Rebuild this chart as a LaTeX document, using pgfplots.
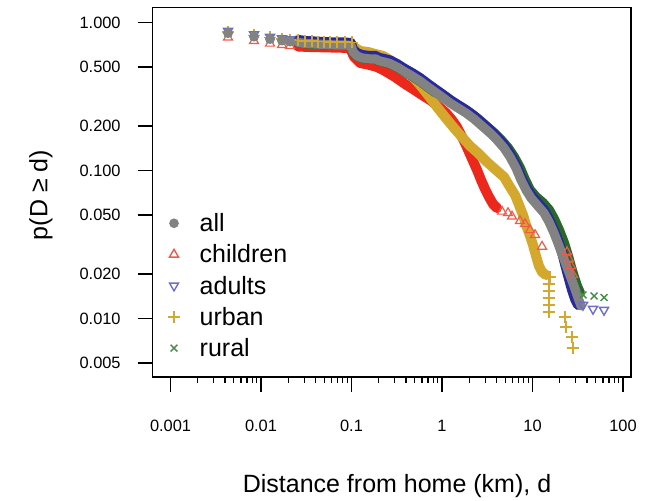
\documentclass[border=0pt]{standalone}
\usepackage{pgfplots}
\pgfplotsset{compat=1.18}
\usepackage{fontspec}
\setmainfont{Liberation Sans}
\definecolor{cgrey}{RGB}{130,130,130}
\definecolor{cred}{RGB}{236,40,28}
\definecolor{credl}{RGB}{242,90,70}
\definecolor{cblue}{RGB}{40,40,160}
\definecolor{cbluel}{RGB}{110,110,200}
\definecolor{cgold}{RGB}{212,168,45}
\definecolor{cgreen}{RGB}{40,105,40}
\definecolor{cgreenl}{RGB}{70,140,70}
\begin{document}
\begin{tikzpicture}
\useasboundingbox (-76.25pt,-62pt) rectangle (247.25pt,188.5pt);
\begin{axis}[
  scale only axis, width=239.25pt, height=184.75pt,
  xmode=log, ymode=log,
  xmin=6.32e-4, xmax=122.5, ymin=0.004024, ymax=1.263,
  axis line style={line width=0.6pt},
  xtick={0.001,0.01,0.1,1,10,100},
  xticklabels={0.001,0.01,0.1,1,10,100},
  ytick={0.005,0.01,0.02,0.05,0.1,0.2,0.5,1},
  yticklabels={0.005,0.010,0.020,0.050,0.100,0.200,0.500,1.000},
  minor xtick={}, minor ytick={},
  tick align=outside, xtick pos=left, ytick pos=left,
  major tick length=7.5pt,
  tick style={line width=0.6pt, black},
  ticklabel style={font=\fontsize{8.2}{10}\selectfont},
  xticklabel style={anchor=center, yshift=-17pt},
  yticklabel style={anchor=east, inner sep=0pt, xshift=-8.25pt},
  xlabel={Distance from home (km), d},
  ylabel={p(D ≥ d)},
  every axis x label/.style={at={(axis description cs:0.511,0)}, anchor=base, yshift=-57.5pt, font=\fontsize{12.5}{15}\selectfont},
  every axis y label/.style={at={(axis description cs:-0.233,0.4926)}, rotate=90, anchor=center, font=\fontsize{12.5}{15}\selectfont},
  legend style={draw=none, fill=none, inner sep=0pt, outer sep=0pt,
    at={(axis description cs:0.0226,0.4582)}, anchor=north west,
    row sep=0pt, column sep=0pt, font=\fontsize{12.5}{15}\selectfont,
    nodes={inner sep=0pt, text height=12pt, text depth=3.6pt}},
  legend cell align=left,
  legend image code/.code={\draw[#1] plot coordinates {(0pt,0pt)}; \path (-5pt,0pt) (12.5pt,0pt);},
]
% ---------- children (red) ----------
\addplot[cred, line width=5pt, line join=round, line cap=round, forget plot] table {
0.02564 0.688
0.03479 0.683
0.05787 0.678
0.0962 0.673
0.1066 0.585
0.1242 0.533
0.1601 0.516
0.1913 0.500
0.2346 0.470
0.3025 0.428
0.3902 0.384
0.4782 0.355
0.601 0.3237
0.737 0.2995
0.903 0.2728
1.107 0.2446
1.290 0.2194
1.465 0.1967
1.622 0.1738
1.795 0.1534
1.988 0.1334
2.200 0.1159
2.437 0.1008
2.697 0.0863
2.986 0.0750
3.306 0.0662
3.660 0.0594
4.053 0.0558
};
\addplot[only marks, mark=triangle, mark size=2.6pt, credl, line width=0.6pt, forget plot] table {
0.00432 0.792
0.00837 0.750
0.01257 0.721
0.01706 0.705
0.02091 0.694
4.603 0.0528
5.361 0.0516
5.935 0.0489
7.275 0.0456
8.264 0.0435
9.385 0.0396
10.66 0.0367
12.74 0.0306
24.06 0.0281
25.31 0.0252
26.63 0.0226
28.03 0.01967
};
% ---------- urban (gold) ----------
\addplot[cgold, line width=5pt, line join=round, line cap=round, forget plot] table {
0.1066 0.683
0.1242 0.642
0.1522 0.632
0.1818 0.613
0.2229 0.594
0.2663 0.558
0.3183 0.524
0.3902 0.4775
0.4662 0.435
0.5713 0.378
0.7002 0.3237
0.881 0.2685
1.079 0.2299
1.357 0.1937
1.663 0.1684
2.039 0.1464
2.499 0.1313
3.143 0.1141
3.951 0.1008
4.843 0.0904
5.641 0.0773
6.409 0.0683
7.093 0.0585
7.852 0.0500
8.478 0.0428
9.385 0.0361
10.13 0.0314
10.93 0.02644
11.80 0.0226
12.74 0.0206
14.10 0.01967
};
\addplot[only marks, mark=+, mark size=3pt, cgold, line width=0.7pt, forget plot] table {
0.00432 0.863
0.00837 0.817
0.01257 0.792
0.01706 0.774
0.02091 0.762
0.02564 0.756
0.03063 0.750
0.03661 0.750
0.04265 0.744
0.04967 0.744
0.05787 0.738
0.06916 0.738
0.08477 0.738
0.1013 0.733
15.61 0.01907
15.22 0.0171
15.22 0.01534
15.22 0.01376
15.22 0.01234
15.22 0.01106
22.86 0.01023
23.45 0.00876
27.32 0.0075
28.03 0.00632
};
% ---------- rural (green) ----------
\addplot[cgreen, line width=5pt, line join=round, line cap=round, forget plot] table {
0.02564 0.733
0.03143 0.721
0.03951 0.716
0.05096 0.710
0.06572 0.705
0.08477 0.705
0.0987 0.699
0.1039 0.632
0.1150 0.594
0.1306 0.576
0.1601 0.567
0.1866 0.567
0.1963 0.554
0.2286 0.541
0.2663 0.528
0.3183 0.500
0.3902 0.463
0.4662 0.435
0.5713 0.4025
0.7002 0.3665
0.8368 0.339
1.107 0.3138
1.357 0.2858
1.663 0.2644
2.039 0.2446
2.499 0.2228
3.063 0.1999
3.755 0.1792
4.486 0.1607
5.361 0.1419
6.245 0.1234
7.275 0.1039
8.264 0.0863
9.385 0.0738
10.93 0.0662
13.06 0.0603
15.22 0.0541
17.28 0.0470
19.63 0.0396
22.29 0.0324
24.68 0.02644
26.63 0.02228
28.74 0.01907
31.02 0.01658
33.49 0.01487
};
\addplot[only marks, mark=x, mark size=2.4pt, cgreenl, line width=0.7pt, forget plot] table {
0.00432 0.849
0.00837 0.804
0.01257 0.774
0.01706 0.756
0.02091 0.744
36.14 0.01442
47.82 0.01419
61.67 0.01386
};
% ---------- adults (blue) ----------
\addplot[cblue, line width=5pt, line join=round, line cap=round, forget plot] table {
0.02564 0.762
0.03143 0.750
0.03951 0.744
0.05096 0.738
0.06572 0.733
0.08477 0.733
0.0987 0.727
0.1039 0.657
0.1150 0.622
0.1306 0.603
0.1601 0.594
0.1866 0.594
0.1963 0.580
0.2286 0.567
0.2663 0.554
0.3183 0.524
0.3902 0.485
0.4662 0.456
0.5713 0.422
0.7002 0.384
0.8368 0.355
1.0 0.329
1.226 0.2995
1.502 0.2770
1.841 0.2563
2.257 0.2335
2.767 0.2094
3.391 0.1877
4.053 0.1684
4.843 0.1487
5.641 0.1293
6.572 0.1089
7.465 0.0904
8.478 0.0773
9.625 0.0683
11.21 0.0613
13.40 0.0541
15.22 0.0470
17.28 0.0396
19.63 0.0324
21.73 0.02644
23.45 0.02194
25.31 0.01848
27.32 0.01558
29.49 0.01354
31.83 0.01234
};
\addplot[only marks, mark=triangle, mark options={rotate=180}, mark size=2.6pt, cbluel, line width=0.7pt, forget plot] table {
0.00432 0.876
0.00837 0.830
0.01257 0.798
0.01706 0.780
0.02091 0.768
36.14 0.01234
46.61 0.01159
61.67 0.01141
};
% ---------- all (grey) ----------
\addplot[cgrey, line width=4.6pt, line join=round, line cap=round, forget plot] table {
0.02564 0.733
0.03143 0.721
0.03951 0.716
0.05096 0.710
0.06572 0.705
0.08477 0.705
0.0987 0.699
0.1039 0.632
0.1150 0.594
0.1306 0.576
0.1601 0.567
0.1866 0.567
0.1963 0.554
0.2286 0.541
0.2663 0.528
0.3183 0.500
0.3902 0.463
0.4662 0.435
0.5713 0.4025
0.7002 0.3665
0.8368 0.339
1.0 0.3138
1.226 0.2858
1.502 0.2644
1.841 0.2446
2.257 0.2228
2.767 0.1999
3.391 0.1792
4.053 0.1607
4.843 0.1419
5.641 0.1234
6.572 0.1039
7.465 0.0863
8.478 0.0738
9.625 0.0652
11.21 0.0585
13.40 0.0516
15.22 0.0449
17.28 0.0378
19.63 0.0309
22.29 0.0252
24.68 0.02127
26.63 0.01877
28.74 0.01658
30.25 0.01510
31.83 0.01376
33.49 0.01273
34.35 0.01215
};
\addplot[only marks, mark=*, mark size=2.3pt, cgrey, forget plot] table {
0.00432 0.849
0.00837 0.804
0.01257 0.774
0.01706 0.756
0.02091 0.744
};
% ---------- legend ----------
\addlegendimage{only marks, mark=*, mark size=2.2pt, cgrey}
\addlegendentry{all}
\addlegendimage{only marks, mark=triangle, mark size=2.6pt, credl, line width=0.7pt}
\addlegendentry{children}
\addlegendimage{only marks, mark=triangle, mark options={rotate=180}, mark size=2.6pt, cbluel, line width=0.7pt}
\addlegendentry{adults}
\addlegendimage{only marks, mark=+, mark size=3pt, cgold, line width=0.7pt}
\addlegendentry{urban}
\addlegendimage{only marks, mark=x, mark size=2.4pt, cgreenl, line width=0.7pt}
\addlegendentry{rural}
\end{axis}
\end{tikzpicture}
\end{document}
